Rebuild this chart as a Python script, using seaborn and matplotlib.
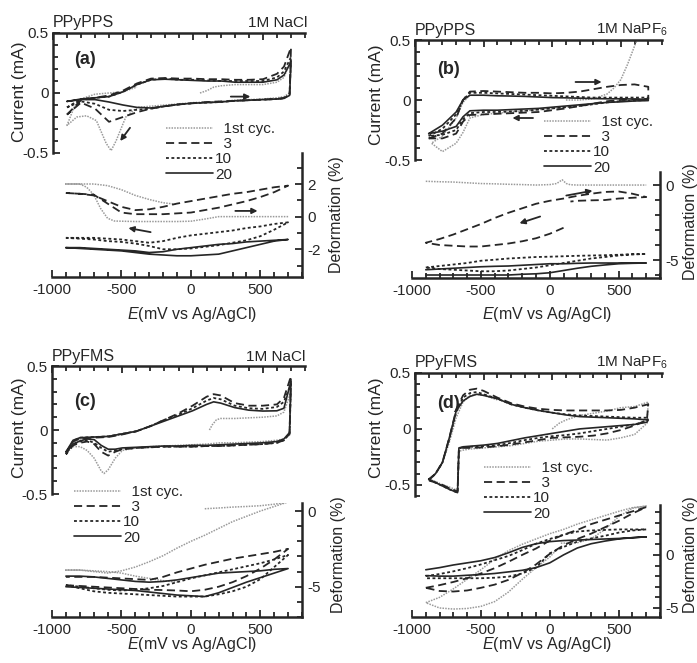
import matplotlib
matplotlib.use("Agg")
import matplotlib.pyplot as plt
import seaborn as sns
from matplotlib.lines import Line2D
from matplotlib.ticker import MultipleLocator

# ---------------- data ----------------
CYCLES = ["1st cyc.", "3", "10", "20"]
LEG_LABELS = ["  1st cyc.", "  3", "10", "20"]
X_TICKS = [-1000, -500, 0, 500]

# shared potential path for deformation loops (anodic then cathodic)
DEF_E = [-900, -800, -700, -600, -500, -400, -300, -200, -100, 0, 100, 200, 300, 400, 500, 600, 700,
         600, 500, 400, 300, 200, 100, 0, -100, -200, -300, -400, -500, -600, -700, -800, -900]

# ---- (a) PPyPPS / 1M NaCl ----
CV_E_a = [-900, -800, -700, -600, -500, -400, -300, -200, -100, 0, 100, 200, 300, 400, 500, 600, 650, 700,
          690, 650, 600, 500, 400, 300, 200, 100, 0, -100, -200, -300, -400, -500, -600, -700, -800, -900]
I_a_20 = [-0.07, -0.05, -0.04, -0.03, 0.01, 0.07, 0.11, 0.115, 0.11, 0.105, 0.10, 0.10, 0.09, 0.09, 0.09, 0.11, 0.15, 0.26,
          -0.02, -0.045, -0.05, -0.055, -0.06, -0.065, -0.075, -0.08, -0.085, -0.095, -0.11, -0.125, -0.12, -0.1, -0.075, -0.055, -0.055, -0.07]
I_a_3 = [-0.18, -0.06, -0.04, -0.02, 0.02, 0.08, 0.12, 0.125, 0.12, 0.12, 0.115, 0.115, 0.11, 0.11, 0.115, 0.16, 0.22, 0.38,
         -0.01, -0.04, -0.05, -0.055, -0.06, -0.065, -0.07, -0.075, -0.085, -0.095, -0.11, -0.13, -0.16, -0.2, -0.24, -0.13, -0.08, -0.18]
I_a_10 = [-0.12, -0.05, -0.04, -0.03, 0.01, 0.07, 0.11, 0.12, 0.11, 0.11, 0.105, 0.10, 0.10, 0.10, 0.10, 0.13, 0.18, 0.30,
          -0.01, -0.045, -0.05, -0.055, -0.06, -0.065, -0.075, -0.08, -0.085, -0.095, -0.11, -0.13, -0.14, -0.15, -0.14, -0.09, -0.07, -0.12]
E_a_1 = [50, 100, 150, 200, 300, 400, 500, 600, 650, 700,
         690, 650, 600, 500, 400, 300, 200, 100, 0, -100, -200, -300, -400,
         -480, -550, -585, -620, -690, -760, -830, -900,
         -850, -800, -700, -600, -500, -400]
I_a_1 = [0.0, 0.02, 0.05, 0.06, 0.07, 0.07, 0.07, 0.09, 0.13, 0.28,
         0.0, -0.03, -0.04, -0.05, -0.055, -0.06, -0.07, -0.075, -0.08, -0.09, -0.1, -0.11, -0.12,
         -0.2, -0.4, -0.48, -0.42, -0.23, -0.19, -0.2, -0.27,
         -0.12, -0.05, -0.01, 0.0, 0.01, 0.05]
D_a_20 = [-1.9, -1.95, -2.0, -2.05, -2.1, -2.2, -2.3, -2.35, -2.4, -2.4, -2.35, -2.3, -2.1, -1.9, -1.7, -1.5, -1.4,
          -1.45, -1.5, -1.55, -1.65, -1.7, -1.8, -1.9, -2.0, -2.15, -2.2, -2.1, -2.05, -2.0, -1.95, -1.9, -1.9]
D_a_10 = [-1.3, -1.35, -1.4, -1.5, -1.55, -1.65, -1.8, -2.0, -2.0, -1.95, -1.85, -1.75, -1.6, -1.45, -1.2, -0.8, -0.35,
          -0.45, -0.6, -0.7, -0.85, -0.95, -1.05, -1.15, -1.3, -1.5, -1.6, -1.5, -1.4, -1.35, -1.3, -1.3, -1.3]
D_a_3 = [1.45, 1.4, 1.35, 0.8, 0.25, 0.15, 0.15, 0.15, 0.2, 0.25, 0.4, 0.55, 0.75, 0.95, 1.2, 1.5, 1.9,
         1.8, 1.65, 1.5, 1.4, 1.25, 1.1, 0.95, 0.8, 0.6, 0.45, 0.4, 0.6, 0.95, 1.3, 1.4, 1.45]
E_a_1d = [700, 600, 500, 400, 300, 200, 100, 0, -100, -200, -300, -400, -500, -550, -600, -650, -700, -750, -800, -900,
          -800, -700, -600, -500, -400, -300, -200, -100]
D_a_1 = [0.0, 0.0, 0.0, 0.0, 0.0, 0.0, -0.15, -0.28, -0.3, -0.3, -0.3, -0.3, -0.28, -0.27, -0.1, 0.5, 1.35, 1.8, 2.0, 2.0,
         2.0, 2.0, 1.9, 1.65, 1.3, 1.05, 0.85, 0.75]

# ---- (b) PPyPPS / 1M NaPF6 ----
CV_E_b = [-900, -800, -700, -650, -600, -500, -400, -300, -200, -100, 0, 100, 200, 300, 400, 500, 600, 700,
          700, 600, 500, 400, 300, 200, 100, 0, -100, -200, -300, -400, -500, -600, -650, -700, -800, -900]
I_b_20 = [-0.28, -0.21, -0.1, 0.0, 0.04, 0.04, 0.035, 0.033, 0.03, 0.025, 0.02, 0.018, 0.015, 0.012, 0.01, 0.01, 0.008, 0.005,
          -0.005, -0.008, -0.015, -0.02, -0.03, -0.04, -0.05, -0.06, -0.07, -0.075, -0.08, -0.085, -0.085, -0.09, -0.14, -0.22, -0.26, -0.28]
I_b_3 = [-0.32, -0.28, -0.15, 0.0, 0.07, 0.075, 0.07, 0.065, 0.06, 0.06, 0.055, 0.06, 0.07, 0.09, 0.11, 0.125, 0.13, 0.11,
         0.01, 0.005, 0.0, -0.01, -0.03, -0.05, -0.07, -0.085, -0.1, -0.105, -0.11, -0.115, -0.12, -0.125, -0.18, -0.28, -0.32, -0.32]
I_b_10 = [-0.3, -0.24, -0.12, 0.0, 0.06, 0.06, 0.055, 0.05, 0.045, 0.04, 0.035, 0.03, 0.025, 0.02, 0.02, 0.02, 0.02, 0.02,
          0.0, -0.005, -0.01, -0.02, -0.035, -0.05, -0.06, -0.07, -0.08, -0.09, -0.095, -0.1, -0.1, -0.11, -0.16, -0.25, -0.29, -0.3]
E_b_1a = [100, 200, 300, 400, 450, 500, 550, 600, 640]
I_b_1a = [0.0, 0.0, 0.01, 0.05, 0.1, 0.17, 0.3, 0.45, 0.56]
E_b_1b = [600, 500, 400, 300, 200, 100, 0, -100, -200, -300, -400, -500, -600, -650, -700, -800, -880, -800, -700, -650, -600]
I_b_1b = [0.0, -0.01, -0.02, -0.03, -0.05, -0.06, -0.07, -0.08, -0.09, -0.1, -0.11, -0.12, -0.15, -0.27, -0.36, -0.43, -0.36, -0.3, -0.15, -0.02, 0.04]
D_b_20 = [-5.65, -5.6, -5.55, -5.5, -5.45, -5.42, -5.4, -5.35, -5.3, -5.25, -5.25, -5.22, -5.2, -5.2, -5.2, -5.2, -5.2,
          -5.22, -5.25, -5.33, -5.42, -5.55, -5.7, -5.85, -5.92, -5.95, -6.0, -6.0, -6.0, -6.0, -6.0, -6.0, -6.0]
D_b_10 = [-5.5, -5.4, -5.3, -5.2, -5.05, -4.98, -4.9, -4.85, -4.8, -4.78, -4.75, -4.72, -4.7, -4.68, -4.65, -4.62, -4.6,
          -4.62, -4.7, -4.8, -4.9, -5.05, -5.2, -5.35, -5.5, -5.6, -5.7, -5.75, -5.75, -5.7, -5.65, -5.6, -5.5]
E_b_3d = [100, 0, -100, -200, -300, -400, -500, -600, -700, -800, -900, -800, -700, -600, -500, -400, -300, -200, -100,
          0, 100, 200, 300, 400, 500, 600, 700, 600, 500, 400, 300, 200, 150]
D_b_3 = [-2.85, -3.25, -3.55, -3.75, -3.9, -4.0, -4.1, -4.1, -4.05, -4.0, -3.85, -3.6, -3.3, -2.95, -2.6, -2.2, -1.85, -1.55, -1.25,
         -1.05, -0.9, -0.72, -0.58, -0.46, -0.43, -0.58, -0.8, -0.85, -0.9, -1.0, -1.02, -1.05, -1.1]
E_b_1d = [-900, -800, -700, -600, -500, -400, -300, -200, -100, 0, 50, 90, 120, 150, 200, 300, 400, 500, 600, 700]
D_b_1 = [0.25, 0.22, 0.2, 0.15, 0.1, 0.08, 0.05, 0.03, 0.0, 0.03, 0.1, 0.35, 0.1, 0.02, 0.0, 0.0, 0.0, 0.0, 0.0, 0.0]

# ---- (c) PPyFMS / 1M NaCl ----
CV_E_c = [-900, -850, -800, -700, -600, -500, -400, -300, -200, -100, 0, 100, 150, 200, 300, 400, 500, 600, 650, 700,
          690, 650, 600, 500, 400, 300, 200, 100, 0, -100, -200, -300, -400, -500, -550, -600, -650, -700, -750, -800, -850, -900]
I_c_20 = [-0.17, -0.08, -0.06, -0.055, -0.05, -0.03, -0.01, 0.03, 0.07, 0.11, 0.15, 0.2, 0.22, 0.21, 0.175, 0.155, 0.148, 0.15, 0.17, 0.38,
          -0.02, -0.07, -0.09, -0.1, -0.105, -0.11, -0.115, -0.12, -0.12, -0.125, -0.125, -0.13, -0.135, -0.14, -0.15, -0.15, -0.12, -0.075, -0.07, -0.085, -0.11, -0.17]
I_c_3 = [-0.19, -0.09, -0.065, -0.06, -0.055, -0.035, -0.01, 0.03, 0.08, 0.13, 0.19, 0.26, 0.28, 0.27, 0.21, 0.19, 0.19, 0.2, 0.25, 0.42,
         -0.03, -0.08, -0.1, -0.11, -0.115, -0.12, -0.125, -0.125, -0.13, -0.13, -0.13, -0.135, -0.14, -0.15, -0.17, -0.2, -0.17, -0.11, -0.09, -0.1, -0.12, -0.19]
I_c_10 = [-0.18, -0.085, -0.06, -0.055, -0.05, -0.03, -0.01, 0.03, 0.08, 0.12, 0.17, 0.23, 0.25, 0.24, 0.19, 0.17, 0.165, 0.18, 0.22, 0.36,
          -0.03, -0.08, -0.1, -0.11, -0.115, -0.12, -0.125, -0.125, -0.13, -0.13, -0.13, -0.135, -0.14, -0.15, -0.16, -0.17, -0.14, -0.1, -0.08, -0.09, -0.11, -0.18]
E_c_1 = [120, 140, 170, 200, 300, 400, 500, 600, 650, 700,
         690, 650, 600, 500, 400, 300, 200, 100, 0, -100, -200, -300, -400, -500, -550, -600, -630, -650, -700, -750, -800, -850, -900,
         -850, -800, -700, -600, -500, -400, -300]
I_c_1 = [0.0, 0.04, 0.08, 0.09, 0.09, 0.095, 0.1, 0.11, 0.14, 0.3,
         -0.04, -0.07, -0.08, -0.09, -0.095, -0.1, -0.1, -0.11, -0.115, -0.12, -0.125, -0.13, -0.14, -0.16, -0.22, -0.31, -0.34, -0.32, -0.22, -0.16, -0.13, -0.13, -0.18,
         -0.1, -0.07, -0.055, -0.05, -0.03, -0.01, 0.03]
D_c_20 = [-5.0, -5.05, -5.1, -5.15, -5.2, -5.25, -5.35, -5.45, -5.55, -5.6, -5.65, -5.4, -5.05, -4.7, -4.4, -4.1, -3.8,
          -3.85, -3.95, -4.0, -4.05, -4.1, -4.25, -4.4, -4.55, -4.65, -4.7, -4.65, -4.55, -4.45, -4.35, -4.3, -4.3]
D_c_10 = [-4.9, -5.1, -5.3, -5.4, -5.45, -5.5, -5.55, -5.6, -5.65, -5.65, -5.65, -5.5, -5.3, -5.0, -4.5, -3.7, -2.9,
          -3.2, -3.45, -3.65, -3.85, -4.05, -4.25, -4.45, -4.7, -4.95, -5.1, -5.2, -5.25, -5.2, -5.1, -5.0, -4.9]
D_c_3 = [-4.9, -4.95, -5.0, -5.05, -5.1, -5.15, -5.2, -5.22, -5.25, -5.3, -5.2, -5.0, -4.7, -4.3, -3.8, -3.2, -2.5,
         -2.7, -2.85, -3.0, -3.15, -3.35, -3.55, -3.8, -4.05, -4.35, -4.55, -4.5, -4.45, -4.4, -4.35, -4.35, -4.35]
E_c_1d = [100, 200, 300, 400, 500, 600, 700, 600, 500, 400, 300, 200, 100, 0, -100, -200, -300, -400, -500, -600, -700, -800, -900,
          -800, -700, -600, -500, -400, -300, -200, -100]
D_c_1 = [0.15, 0.2, 0.26, 0.3, 0.35, 0.45, 0.6, 0.3, 0.0, -0.35, -0.7, -1.15, -1.6, -2.0, -2.45, -2.95, -3.35, -3.7, -3.95, -4.1, -4.0, -3.9, -3.9,
         -3.9, -3.95, -4.0, -4.1, -4.3, -4.45, -4.6, -4.7]

# ---- (d) PPyFMS / 1M NaPF6 ----
CV_E_d = [-900, -850, -800, -750, -700, -650, -600, -550, -500, -400, -300, -200, -100, 0, 100, 200, 300, 400, 500, 600, 700,
          690, 600, 500, 400, 300, 200, 100, 0, -100, -200, -300, -400, -500, -600, -650, -680, -690, -750, -800, -850, -900]
I_d_20 = [-0.45, -0.4, -0.3, -0.08, 0.16, 0.25, 0.29, 0.31, 0.3, 0.27, 0.22, 0.19, 0.165, 0.145, 0.125, 0.11, 0.105, 0.1, 0.095, 0.09, 0.08,
          0.06, 0.04, 0.03, 0.02, 0.01, 0.0, -0.02, -0.04, -0.06, -0.08, -0.105, -0.13, -0.145, -0.155, -0.16, -0.17, -0.57, -0.54, -0.51, -0.48, -0.45]
I_d_3 = [-0.46, -0.4, -0.3, -0.08, 0.17, 0.3, 0.35, 0.36, 0.34, 0.28, 0.23, 0.2, 0.18, 0.17, 0.165, 0.165, 0.165, 0.165, 0.17, 0.19, 0.22,
         0.08, 0.03, -0.01, -0.04, -0.06, -0.07, -0.075, -0.08, -0.1, -0.12, -0.14, -0.155, -0.165, -0.17, -0.17, -0.18, -0.56, -0.53, -0.5, -0.48, -0.46]
I_d_10 = [-0.46, -0.4, -0.3, -0.09, 0.15, 0.28, 0.32, 0.33, 0.31, 0.27, 0.22, 0.19, 0.165, 0.145, 0.13, 0.12, 0.115, 0.11, 0.105, 0.1, 0.1,
          0.07, 0.04, 0.02, 0.0, -0.02, -0.04, -0.055, -0.065, -0.08, -0.1, -0.125, -0.145, -0.155, -0.16, -0.165, -0.175, -0.57, -0.54, -0.51, -0.48, -0.46]
E_d_1 = [0, 50, 100, 200, 300, 400, 500, 600, 650, 700,
         690, 600, 500, 400, 300, 200, 100, 0, -100, -200, -300, -400, -500, -600, -650, -680, -690, -750, -800, -850, -900,
         -850, -800, -750, -700, -650, -600, -550, -500, -400]
I_d_1 = [0.0, 0.05, 0.08, 0.12, 0.14, 0.16, 0.19, 0.2, 0.22, 0.24,
         0.05, -0.05, -0.08, -0.1, -0.095, -0.09, -0.09, -0.1, -0.11, -0.13, -0.15, -0.16, -0.17, -0.18, -0.19, -0.2, -0.55, -0.52, -0.5, -0.47, -0.45,
         -0.4, -0.3, -0.12, 0.1, 0.24, 0.3, 0.31, 0.3, 0.26]
D_d_20 = [-1.4, -1.2, -0.95, -0.75, -0.55, -0.25, 0.2, 0.7, 1.05, 1.25, 1.35, 1.4, 1.45, 1.5, 1.55, 1.62, 1.7,
          1.62, 1.5, 1.3, 1.05, 0.65, 0.0, -0.75, -1.2, -1.45, -1.6, -1.75, -1.85, -1.92, -2.0, -2.0, -1.95]
D_d_10 = [-2.0, -1.8, -1.55, -1.25, -0.9, -0.5, -0.1, 0.45, 1.05, 1.5, 1.9, 2.2, 2.3, 2.35, 2.4, 2.4, 2.4,
          2.3, 2.1, 1.8, 1.55, 1.25, 0.75, 0.15, -1.2, -1.75, -2.05, -2.15, -2.2, -2.2, -2.2, -2.2, -2.2]
D_d_3 = [-3.1, -2.85, -2.55, -2.2, -1.75, -1.25, -0.65, 0.0, 0.6, 1.35, 1.9, 2.35, 2.9, 3.3, 3.7, 4.1, 4.5,
         3.9, 3.2, 2.6, 2.0, 1.5, 0.9, 0.1, -0.9, -1.7, -2.35, -2.8, -3.1, -3.35, -3.45, -3.4, -3.1]
E_d_1d = [80, 200, 300, 400, 500, 600, 700, 600, 500, 400, 300, 200, 100, 0, -100, -200, -300, -400, -500, -600, -700, -800, -900,
          -800, -700, -600, -500, -400, -300, -200, -100, 0, 50]
D_d_1 = [1.1, 1.15, 1.5, 2.4, 3.6, 4.4, 4.6, 4.45, 4.1, 3.7, 3.3, 2.9, 2.4, 2.0, 1.5, 1.0, 0.4, -0.4, -1.4, -2.3, -3.2, -4.0, -4.5,
         -5.0, -5.1, -5.05, -4.85, -4.4, -3.5, -2.3, -1.2, -0.2, 0.5]

# sweep-direction arrows: (tail E, tail y, head E, head y)
ARR_a_cv = [(270, -0.03, 410, -0.03), (-450, -0.29, -520, -0.40)]
ARR_a_def = [(320, 0.35, 480, 0.35), (-290, -0.95, -450, -0.70)]
ARR_b_cv = [(170, 0.15, 360, 0.15), (-140, -0.15, -290, -0.15)]
ARR_b_def = [(120, -0.70, 310, -0.38), (-70, -2.10, -220, -2.55)]

# ---------------- style ----------------
sns.set_style("ticks")
plt.rcParams["font.family"] = ["Liberation Sans", "DejaVu Sans"]
plt.rcParams["mathtext.fontset"] = "custom"
plt.rcParams["mathtext.rm"] = "Liberation Sans"
plt.rcParams["mathtext.it"] = "Liberation Sans:italic"

INK = "#262626"
STY = {
    "1st cyc.": dict(color="#9a9a9a", linestyle=(0, (1.0, 0.8)), linewidth=1.1),
    "3": dict(color=INK, linestyle=(0, (4.5, 2.5)), linewidth=1.3),
    "10": dict(color=INK, linestyle=(0, (1.6, 1.4)), linewidth=1.3),
    "20": dict(color=INK, linestyle="-", linewidth=1.2),
}

W, H = 697, 663
fig = plt.figure(figsize=(W / 100, H / 100), dpi=100)


def px_axes(x0, y0, x1, y1):
    return fig.add_axes([x0 / W, 1 - y1 / H, (x1 - x0) / W, (y1 - y0) / H])


def curve(ax, E, V, cyc):
    sns.lineplot(x=E, y=V, sort=False, estimator=None, ax=ax, legend=False, **STY[cyc])


def style_cv(ax, ylim):
    ax.set_xlim(-1000, 800)
    ax.set_ylim(*ylim)
    for s in ["right", "bottom"]:
        ax.spines[s].set_visible(False)
    for s in ["left", "top"]:
        ax.spines[s].set_linewidth(1.8)
        ax.spines[s].set_color(INK)
    ax.xaxis.set_major_locator(MultipleLocator(500))
    ax.xaxis.set_minor_locator(MultipleLocator(100))
    ax.yaxis.set_major_locator(MultipleLocator(0.5))
    ax.yaxis.set_minor_locator(MultipleLocator(0.1))
    ax.tick_params(axis="x", which="both", direction="in", top=True, bottom=False,
                   labeltop=False, labelbottom=False, color=INK, width=1.3)
    ax.tick_params(axis="y", which="both", direction="in", left=True, right=False,
                   labelsize=11, labelcolor=INK, pad=3, color=INK, width=1.3)
    ax.tick_params(which="major", length=5)
    ax.tick_params(which="minor", length=3.5)
    ax.set_yticks([-0.5, 0, 0.5])
    ax.set_yticklabels(["-0.5", "0", "0.5"])
    ax.set_xlabel("")
    ax.set_ylabel("")
    ax.patch.set_alpha(0)


def style_def(ax, ylim, major, labels):
    ax.set_xlim(-1000, 800)
    ax.set_ylim(*ylim)
    for s in ["left", "top"]:
        ax.spines[s].set_visible(False)
    for s in ["right", "bottom"]:
        ax.spines[s].set_linewidth(1.8)
        ax.spines[s].set_color(INK)
    ax.xaxis.set_minor_locator(MultipleLocator(100))
    ax.set_xticks(X_TICKS)
    ax.set_xticklabels([str(v) for v in X_TICKS])
    ax.yaxis.tick_right()
    ax.set_yticks(major)
    ax.set_yticklabels(labels)
    ax.yaxis.set_minor_locator(MultipleLocator(1))
    ax.tick_params(axis="both", which="both", direction="in", labelsize=11,
                   labelcolor=INK, color=INK, width=1.3)
    ax.tick_params(axis="y", which="both", left=False, right=True, labelright=True, labelleft=False, pad=4)
    ax.tick_params(axis="x", pad=4)
    ax.tick_params(which="major", length=5)
    ax.tick_params(which="minor", length=3.5)
    ax.set_xlabel("")
    ax.set_ylabel("")
    ax.patch.set_alpha(0)


def arrows(ax, lst):
    for (x0, y0, x1, y1) in lst:
        ax.annotate("", xy=(x1, y1), xytext=(x0, y0),
                    arrowprops=dict(arrowstyle="-|>", color=INK, lw=1.3,
                                    mutation_scale=8, shrinkA=0, shrinkB=0))


def legend(x, y):
    handles = [Line2D([], [], **STY[c]) for c in CYCLES]
    fig.legend(handles, LEG_LABELS, loc="upper left", bbox_to_anchor=(x / W, 1 - y / H),
               frameon=False, fontsize=11, handlelength=3.1, handletextpad=0.1,
               labelspacing=0.08, borderpad=0, borderaxespad=0, labelcolor=INK)


def labels(cx, cy, dx, dy, xx, xy):
    fig.text(cx, H - cy, "Current (mA)", rotation=90, ha="center", va="center",
             fontsize=12.5, color=INK, transform=None)
    fig.text(dx, H - dy, "Deformation (%)", rotation=90, ha="center", va="center",
             fontsize=11.5, color=INK, transform=None)
    fig.text(xx, H - xy, "$E$(mV vs Ag/AgCl)", ha="center", va="center",
             fontsize=11.5, color=INK, transform=None)


def heads(x_left, x_right, y, left_txt, right_txt, tag, tx, ty):
    fig.text(x_left, H - y, left_txt, ha="left", va="center", fontsize=11.5, color=INK, transform=None)
    fig.text(x_right, H - y, right_txt, ha="right", va="center", fontsize=11, color=INK, transform=None)
    fig.text(tx, H - ty, tag, ha="center", va="center", fontsize=13, fontweight="bold", color=INK, transform=None)


# ---------------- (a) ----------------
ax = px_axes(53, 33, 305, 153)
curve(ax, E_a_1, I_a_1, "1st cyc.")
curve(ax, CV_E_a, I_a_3, "3")
curve(ax, CV_E_a, I_a_10, "10")
curve(ax, CV_E_a, I_a_20, "20")
style_cv(ax, (-0.5, 0.5))
arrows(ax, ARR_a_cv)

ax = px_axes(52, 153, 302, 277)
curve(ax, E_a_1d, D_a_1, "1st cyc.")
curve(ax, DEF_E, D_a_3, "3")
curve(ax, DEF_E, D_a_10, "10")
curve(ax, DEF_E, D_a_20, "20")
style_def(ax, (-3.7, 3.9), [-2, 0, 2], ["-2", "0", "2"])
arrows(ax, ARR_a_def)

legend(166, 122)
labels(20, 92, 337, 215, 192, 315)
heads(53, 307, 23, "PPyPPS", "1M NaCl", "(a)", 85, 60)

# ---------------- (b) ----------------
ax = px_axes(415, 40, 662, 160)
curve(ax, E_b_1a, I_b_1a, "1st cyc.")
curve(ax, E_b_1b, I_b_1b, "1st cyc.")
curve(ax, CV_E_b, I_b_3, "3")
curve(ax, CV_E_b, I_b_10, "10")
curve(ax, CV_E_b, I_b_20, "20")
style_cv(ax, (-0.5, 0.5))
arrows(ax, ARR_b_cv)

ax = px_axes(412, 172, 660, 278)
curve(ax, E_b_1d, D_b_1, "1st cyc.")
curve(ax, E_b_3d, D_b_3, "3")
curve(ax, DEF_E, D_b_10, "10")
curve(ax, DEF_E, D_b_20, "20")
style_def(ax, (-6.2, 0.87), [-5, 0], ["-5", "0"])
arrows(ax, ARR_b_def)

legend(544, 115)
labels(377, 95, 691, 222, 547, 315)
heads(415, 668, 30, "PPyPPS", "1M NaPF$_6$", "(b)", 448, 70)

# ---------------- (c) ----------------
ax = px_axes(52, 366, 305, 494)
curve(ax, E_c_1, I_c_1, "1st cyc.")
curve(ax, CV_E_c, I_c_3, "3")
curve(ax, CV_E_c, I_c_10, "10")
curve(ax, CV_E_c, I_c_20, "20")
style_cv(ax, (-0.5, 0.5))

ax = px_axes(52, 503, 302, 617)
curve(ax, E_c_1d, D_c_1, "1st cyc.")
curve(ax, DEF_E, D_c_3, "3")
curve(ax, DEF_E, D_c_10, "10")
curve(ax, DEF_E, D_c_20, "20")
style_def(ax, (-7.0, 0.53), [-5, 0], ["-5", "0"])

legend(74, 485)
labels(20, 428, 338, 555, 192, 645)
heads(52, 305, 357, "PPyFMS", "1M NaCl", "(c)", 85, 402)

# ---------------- (d) ----------------
ax = px_axes(415, 373, 662, 496)
curve(ax, E_d_1, I_d_1, "1st cyc.")
curve(ax, CV_E_d, I_d_3, "3")
curve(ax, CV_E_d, I_d_10, "10")
curve(ax, CV_E_d, I_d_20, "20")
style_cv(ax, (-0.6, 0.5))

ax = px_axes(412, 505, 660, 617)
curve(ax, E_d_1d, D_d_1, "1st cyc.")
curve(ax, DEF_E, D_d_3, "3")
curve(ax, DEF_E, D_d_10, "10")
curve(ax, DEF_E, D_d_20, "20")
style_def(ax, (-5.85, 4.7), [-5, 0], ["-5", "0"])

legend(484, 461)
labels(377, 428, 691, 555, 547, 645)
heads(415, 668, 363, "PPyFMS", "1M NaPF$_6$", "(d)", 448, 403)

fig.savefig("out.png", dpi=100)
